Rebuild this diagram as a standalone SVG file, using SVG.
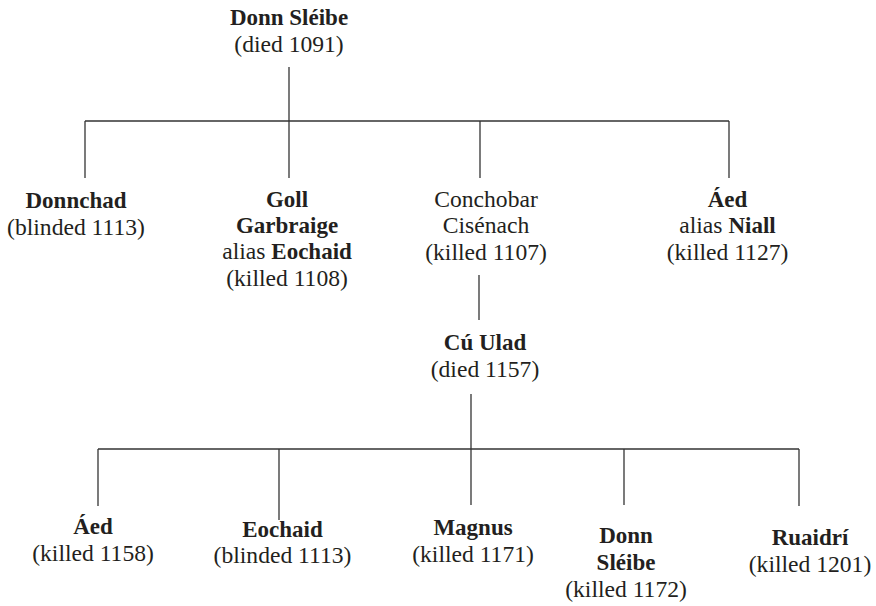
<svg xmlns="http://www.w3.org/2000/svg" width="876" height="606" viewBox="0 0 876 606">
<style>
text{font-family:"Liberation Serif","Times New Roman",serif;font-size:23.6px;fill:#231f20;text-anchor:middle}
.b{font-weight:bold;font-size:23px}
.c line{stroke:#333;stroke-width:1.3;fill:none}
</style>
<rect width="876" height="606" fill="#fff"/>
<g class="c" id="connectors">
<line x1="289" y1="67" x2="289" y2="178"/>
<line x1="85" y1="121" x2="729" y2="121"/>
<line x1="85" y1="121" x2="85" y2="178"/>
<line x1="480" y1="121" x2="480" y2="178"/>
<line x1="729" y1="121" x2="729" y2="178"/>
<line x1="479" y1="275" x2="479" y2="320"/>
<line x1="471" y1="394" x2="471" y2="505"/>
<line x1="98" y1="449" x2="799" y2="449"/>
<line x1="98" y1="449" x2="98" y2="506"/>
<line x1="279" y1="449" x2="279" y2="520"/>
<line x1="624" y1="449" x2="624" y2="505"/>
<line x1="799" y1="449" x2="799" y2="506"/>
</g>
<g id="donn-sleibe-1091"><text x="289" y="25" class="b">Donn Sléibe</text><text x="289" y="52">(died 1091)</text></g>
<g id="donnchad"><text x="76" y="208" class="b">Donnchad</text><text x="76" y="235">(blinded 1113)</text></g>
<g id="goll"><text x="287" y="207" class="b">Goll</text><text x="287" y="233" class="b">Garbraige</text><text x="287" y="259">alias <tspan class="b">Eochaid</tspan></text><text x="287" y="286">(killed 1108)</text></g>
<g id="conchobar"><text x="486" y="207">Conchobar</text><text x="486" y="233">Cisénach</text><text x="486" y="260">(killed 1107)</text></g>
<g id="aed-niall"><text x="727.5" y="207" class="b">Áed</text><text x="727.5" y="233">alias <tspan class="b">Niall</tspan></text><text x="727.5" y="260">(killed 1127)</text></g>
<g id="cu-ulad"><text x="485" y="350" class="b">Cú Ulad</text><text x="485" y="377">(died 1157)</text></g>
<g id="aed"><text x="93" y="534" class="b">Áed</text><text x="93" y="561">(killed 1158)</text></g>
<g id="eochaid"><text x="282.5" y="537" class="b">Eochaid</text><text x="282.5" y="563">(blinded 1113)</text></g>
<g id="magnus"><text x="473" y="535" class="b">Magnus</text><text x="473" y="562">(killed 1171)</text></g>
<g id="donn-sleibe-1172"><text x="626" y="543" class="b">Donn</text><text x="626" y="570" class="b">Sléibe</text><text x="626" y="597">(killed 1172)</text></g>
<g id="ruaidri"><text x="810" y="545" class="b">Ruaidrí</text><text x="810" y="572">(killed 1201)</text></g>
</svg>
